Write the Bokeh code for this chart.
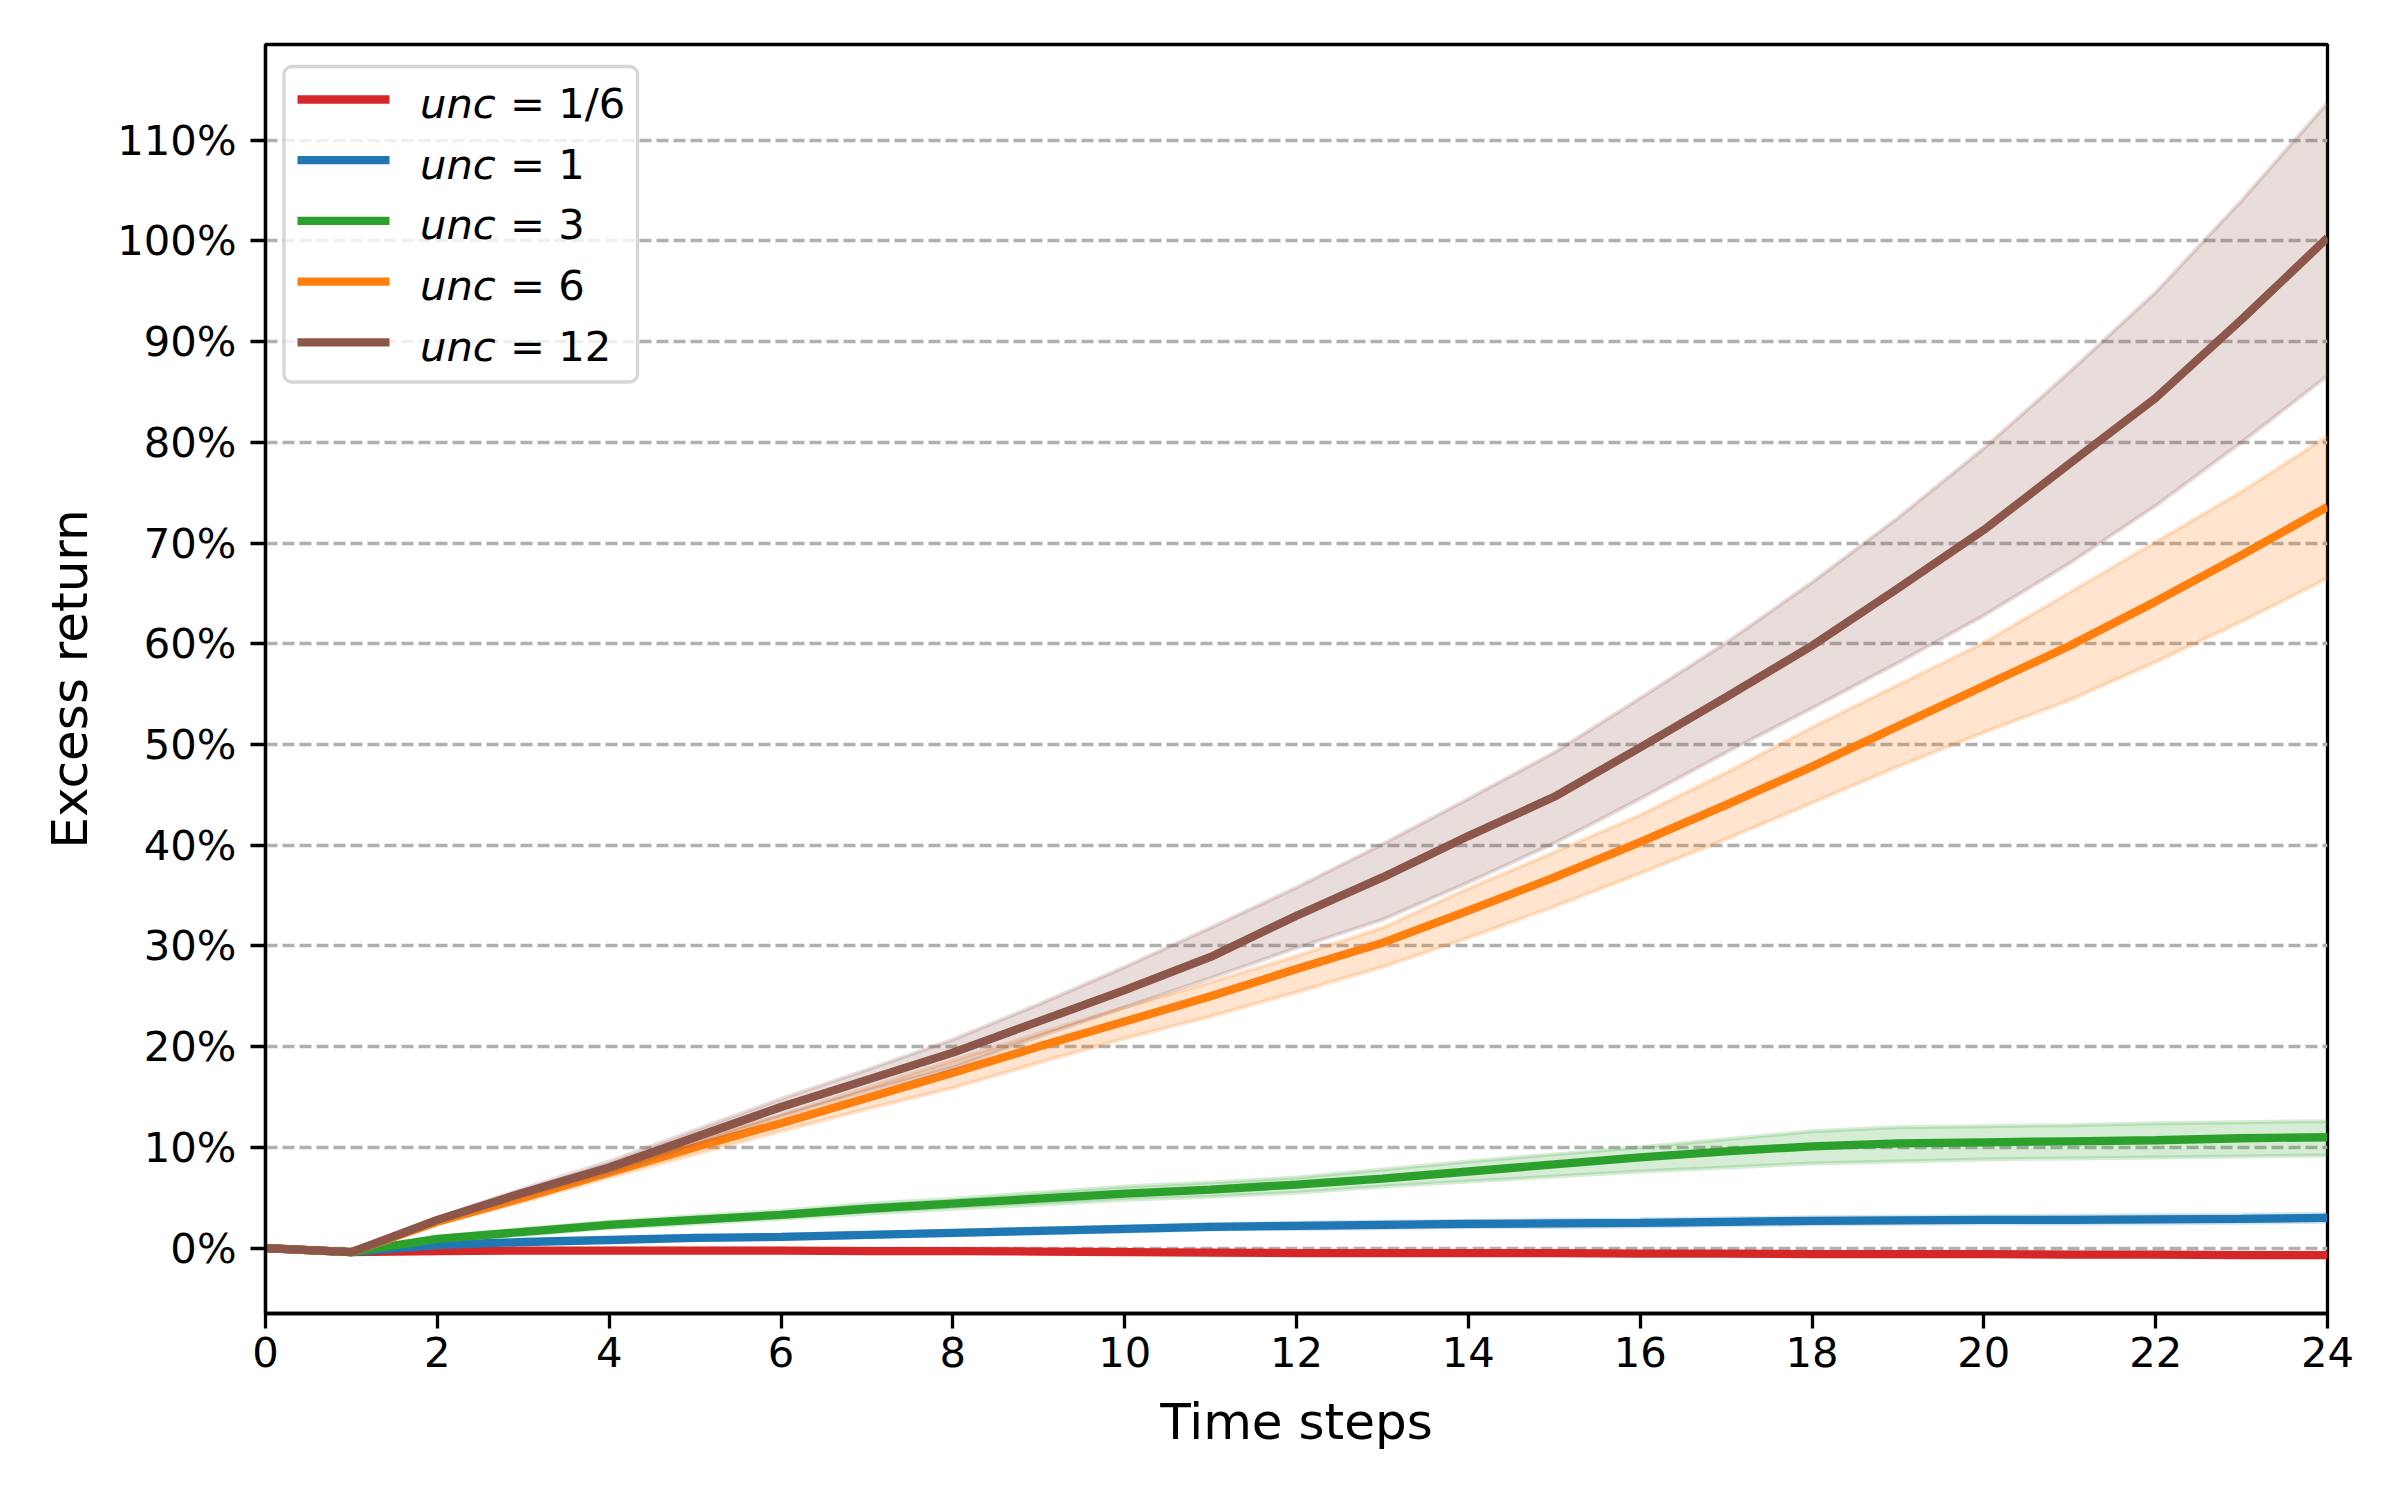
from bokeh.plotting import figure
from bokeh.models import Range1d, FixedTicker, PrintfTickFormatter, BoxAnnotation, Label
from bokeh.embed import file_html
from bokeh.resources import INLINE

# ---------------- data ----------------
steps = list(range(25))
x_ticks = list(range(0, 25, 2))
y_ticks = list(range(0, 111, 10))
unc_labels = ["1/6", "1", "3", "6", "12"]
colors = ["#d62728", "#1f77b4", "#2ca02c", "#ff7f0e", "#8c564b"]

# excess return (%) per time step
mean_1_6 = [0, -0.4, -0.3, -0.25, -0.25, -0.25, -0.25, -0.3, -0.3, -0.35, -0.4, -0.45, -0.5,
            -0.5, -0.5, -0.5, -0.55, -0.55, -0.6, -0.6, -0.6, -0.65, -0.65, -0.7, -0.7]
hi_1_6 = [0, -0.35, -0.22, -0.17, -0.16, -0.15, -0.15, -0.19, -0.19, -0.23, -0.27, -0.31, -0.35,
          -0.35, -0.35, -0.34, -0.38, -0.38, -0.42, -0.42, -0.41, -0.45, -0.45, -0.49, -0.49]
lo_1_6 = [0, -0.45, -0.38, -0.33, -0.34, -0.35, -0.35, -0.41, -0.41, -0.47, -0.53, -0.59, -0.65,
          -0.65, -0.65, -0.66, -0.72, -0.72, -0.78, -0.78, -0.79, -0.85, -0.85, -0.91, -0.91]

mean_1 = [0, -0.4, 0.3, 0.6, 0.8, 1.0, 1.1, 1.3, 1.5, 1.7, 1.9, 2.1, 2.2,
          2.3, 2.4, 2.45, 2.5, 2.6, 2.7, 2.75, 2.8, 2.8, 2.85, 2.9, 3.0]
hi_1 = [0, -0.35, 0.4, 0.7, 0.95, 1.15, 1.3, 1.5, 1.7, 1.95, 2.15, 2.35, 2.5,
        2.6, 2.7, 2.8, 2.85, 2.95, 3.05, 3.1, 3.15, 3.2, 3.25, 3.3, 3.4]
lo_1 = [0, -0.45, 0.2, 0.5, 0.65, 0.85, 0.9, 1.1, 1.3, 1.45, 1.65, 1.85, 1.9,
        2.0, 2.1, 2.1, 2.15, 2.25, 2.35, 2.4, 2.45, 2.4, 2.45, 2.5, 2.6]

mean_3 = [0, -0.4, 0.9, 1.6, 2.3, 2.8, 3.3, 3.9, 4.4, 4.9, 5.4, 5.8, 6.3,
          6.9, 7.6, 8.3, 9.0, 9.6, 10.1, 10.4, 10.5, 10.6, 10.7, 10.9, 11.0]
hi_3 = [0, -0.3, 1.1, 1.9, 2.6, 3.2, 3.7, 4.4, 4.9, 5.5, 6.1, 6.5, 7.0,
        7.8, 8.6, 9.3, 10.0, 10.8, 11.6, 12.0, 12.1, 12.2, 12.4, 12.5, 12.6]
lo_3 = [0, -0.5, 0.7, 1.3, 2.0, 2.4, 2.9, 3.4, 3.9, 4.3, 4.8, 5.1, 5.5,
        6.1, 6.6, 7.1, 7.6, 8.0, 8.4, 8.6, 8.8, 8.9, 9.0, 9.1, 9.2]

mean_6 = [0, -0.4, 2.6, 5.0, 7.5, 10.0, 12.4, 14.9, 17.4, 20.0, 22.5, 25.0, 27.7,
          30.3, 33.5, 36.8, 40.3, 44.0, 47.8, 51.8, 55.8, 59.8, 64.2, 68.8, 73.6]
hi_6 = [0, -0.3, 2.8, 5.4, 8.0, 10.7, 13.2, 15.9, 18.6, 21.3, 23.9, 26.4, 29.0,
        31.8, 35.7, 39.3, 43.0, 47.2, 51.7, 55.9, 60.1, 65.1, 70.1, 75.1, 80.6]
lo_6 = [0, -0.5, 2.4, 4.6, 7.0, 9.3, 11.6, 13.8, 15.9, 18.4, 20.8, 23.0, 25.4,
        27.9, 30.8, 33.9, 37.2, 40.6, 44.2, 47.8, 51.2, 54.4, 58.2, 62.2, 66.5]

mean_12 = [0, -0.4, 2.8, 5.5, 8.0, 11.0, 14.0, 16.7, 19.4, 22.5, 25.6, 28.9, 33.0,
           36.8, 40.9, 44.8, 49.7, 54.7, 59.8, 65.5, 71.3, 77.9, 84.4, 92.2, 100.3]
hi_12 = [0, -0.3, 3.0, 5.9, 8.6, 11.7, 14.8, 17.7, 20.7, 24.2, 27.9, 31.8, 35.8,
         40.1, 44.6, 49.2, 54.6, 60.1, 66.1, 72.5, 79.4, 87.0, 94.9, 104.0, 113.7]
lo_12 = [0, -0.5, 2.6, 5.1, 7.5, 10.3, 13.1, 15.6, 17.9, 21.0, 23.9, 26.8, 29.8,
         32.6, 36.3, 40.2, 44.6, 49.2, 53.6, 58.1, 62.8, 68.0, 73.7, 80.0, 86.6]

means = [mean_1_6, mean_1, mean_3, mean_6, mean_12]
his = [hi_1_6, hi_1, hi_3, hi_6, hi_12]
los = [lo_1_6, lo_1, lo_3, lo_6, lo_12]

# ---------------- figure ----------------
X0, X1 = 0, 24
Y0, Y1 = -6.5, 119.5
BL, BR, BT, BB = 265, 57, 44, 171
W, H = 2384, 1484
FW, FH = W - BL - BR, H - BT - BB  # frame size in px

p = figure(width=W, height=H, output_backend="svg", toolbar_location=None,
           x_range=Range1d(X0, X1), y_range=Range1d(Y0, Y1),
           min_border_left=BL, min_border_right=BR, min_border_top=BT, min_border_bottom=BB)
p.background_fill_color = "white"
p.border_fill_color = "white"
p.outline_line_color = "black"
p.outline_line_width = 3.3
p.outline_line_alpha = 1.0

p.xgrid.visible = False
p.ygrid.ticker = FixedTicker(ticks=y_ticks)
p.ygrid.grid_line_color = "#b0b0b0"
p.ygrid.grid_line_width = 3.3
p.ygrid.grid_line_dash = "12 5"

p.xaxis.ticker = FixedTicker(ticks=x_ticks)
p.yaxis.ticker = FixedTicker(ticks=y_ticks)
p.yaxis.formatter = PrintfTickFormatter(format="%d%%")
for ax in (p.xaxis, p.yaxis):
    ax.axis_line_color = "black"
    ax.axis_line_width = 3.3
    ax.major_tick_line_color = "black"
    ax.major_tick_line_width = 3.3
    ax.major_tick_out = 15
    ax.major_tick_in = 0
    ax.minor_tick_line_color = None
    ax.major_label_text_font = "DejaVu Sans"
    ax.major_label_text_font_size = "41.7px"
    ax.major_label_text_color = "black"
    ax.axis_label_text_font = "DejaVu Sans"
    ax.axis_label_text_font_size = "50px"
    ax.axis_label_text_font_style = "normal"
    ax.axis_label_text_color = "black"
p.xaxis.major_label_standoff = 8
p.yaxis.major_label_standoff = 14
p.xaxis.axis_label = "Time steps"
p.yaxis.axis_label = "Excess return"
p.xaxis.axis_label_standoff = 23
p.yaxis.axis_label_standoff = 15

for m, lo, hi, c in zip(means, los, his, colors):
    p.varea(x=steps, y1=lo, y2=hi, fill_color=c, fill_alpha=0.2)
    p.line(x=steps, y=hi, line_color=c, line_alpha=0.2, line_width=4)
    p.line(x=steps, y=lo, line_color=c, line_alpha=0.2, line_width=4)
    p.line(x=steps, y=m, line_color=c, line_width=8.3)

# ---------------- legend (drawn by hand: italic "unc") ----------------
def fx(px):
    return X0 + px * (X1 - X0) / FW

def fy(py):
    return Y1 - py * (Y1 - Y0) / FH

box = BoxAnnotation(left=fx(18.5), right=fx(372), top=fy(22), bottom=fy(337.5),
                    fill_color="white", fill_alpha=0.8, line_color="#cccccc", line_alpha=0.8,
                    line_width=3.3, border_radius=8)
p.add_layout(box)

row0, row_step = 55, 60.7
for i, (lab, c) in enumerate(zip(unc_labels, colors)):
    ry = row0 + i * row_step
    seg = p.segment(x0=[fx(32)], y0=[fy(ry)], x1=[fx(124)], y1=[fy(ry)], line_color=c, line_width=8.3)
    seg.level = "overlay"
    l1 = Label(x=fx(154.5), y=fy(ry + 4), text="unc", text_font="DejaVu Sans",
               text_font_size="41.7px", text_font_style="italic", text_color="black",
               text_baseline="alphabetic", text_align="left", level="overlay")
    l2 = Label(x=fx(244.6), y=fy(ry + 4), text="= " + lab, text_font="DejaVu Sans",
               text_font_size="41.7px", text_font_style="normal", text_color="black",
               text_baseline="alphabetic", text_align="left", level="overlay")
    p.add_layout(l1)
    p.add_layout(l2)

open("out.html", "w").write(file_html(p, INLINE))
